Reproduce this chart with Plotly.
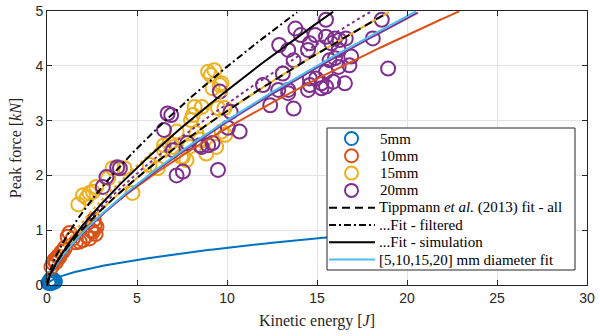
import numpy as np
import plotly.graph_objects as go

E_5mm = [0.08, 0.14, 0.20, 0.26, 0.32, 0.38, 0.44, 0.22]
F_5mm = [0.04, 0.07, 0.03, 0.08, 0.05, 0.09, 0.06, 0.11]

E_10mm = [0.25, 0.33, 0.40, 0.50, 0.60, 0.69, 0.80, 0.87, 1.00, 1.15, 1.25, 1.43,
          1.60, 1.81, 2.00, 2.20, 2.36, 2.45, 2.54, 2.60, 2.64, 2.70, 2.75]
F_10mm = [0.33, 0.40, 0.45, 0.42, 0.52, 0.51, 0.60, 0.61, 0.68, 0.88, 0.95, 0.85,
          0.78, 0.79, 0.82, 0.90, 0.85, 1.00, 0.97, 1.19, 1.09, 0.93, 1.06]

E_15mm = [1.74, 2.00, 2.20, 2.36, 2.55, 2.74, 3.40, 3.65, 3.90, 4.30, 4.75, 5.70,
          6.15, 6.50, 6.50, 6.80, 7.00, 7.20, 7.45, 7.55, 7.75, 7.90, 8.00, 8.10,
          8.20, 8.30, 8.50, 8.60, 8.85, 8.95, 9.10, 9.20, 9.30, 9.40, 9.50, 9.60,
          9.70, 9.70, 9.86, 9.90]
F_15mm = [1.47, 1.64, 1.59, 1.68, 1.70, 1.79, 1.95, 2.13, 2.13, 2.13, 1.68, 2.19,
          2.13, 2.55, 2.46, 2.59, 2.52, 2.80, 2.34, 2.34, 2.28, 2.52, 3.01, 3.10,
          3.25, 2.77, 2.65, 3.25, 2.40, 3.89, 3.83, 3.59, 3.92, 2.52, 3.23, 3.65,
          3.68, 2.80, 3.23, 2.74]

E_20mm = [3.10, 3.30, 3.90, 4.05, 6.50, 6.70, 6.90, 7.00, 7.20, 7.55, 7.80, 8.50,
          8.60, 8.95, 9.20, 9.50, 9.60, 10.05, 10.20, 10.70,
          12.00, 12.40, 12.85, 12.90, 13.10, 13.40, 13.40, 13.40, 13.70, 13.70,
          13.80, 14.10, 14.50, 14.50, 14.60, 14.60, 14.60, 14.90, 14.95, 15.25,
          15.25, 15.50, 15.50, 15.50, 15.50, 15.70, 15.80, 15.90, 16.00, 16.00,
          16.20, 16.20, 16.25, 16.55, 16.60, 16.80, 16.90, 18.10, 18.60, 18.95]
F_20mm = [1.79, 1.97, 2.15, 2.13, 2.83, 3.13, 3.10, 2.46, 2.00, 2.07, 2.59, 2.55,
          2.52, 2.55, 2.59, 2.10, 3.53, 2.87, 3.16, 2.80,
          3.65, 3.28, 3.56, 4.38, 3.86, 4.29, 3.56, 3.50, 4.10, 3.22,
          4.68, 4.56, 4.29, 3.56, 4.41, 3.77, 3.65, 4.56, 3.77, 3.68,
          3.59, 4.84, 4.53, 3.89, 3.62, 4.10, 4.41, 3.71, 4.50, 4.14,
          4.29, 3.98, 4.47, 3.68, 4.50, 4.01, 4.17, 4.50, 4.84, 3.95]

# ---- power-law fit parameters F = a * E^b ----
fit_names = ["5mm fit", "10mm fit", "15mm fit", "20mm fit", "15mm alt", "20mm alt",
             "[5,10,15,20] mm diameter fit",
             "Tippmann <i>et al.</i> (2013) fit - all",
             "...Fit - filtered", "...Fit - simulation"]
fit_a = [0.185, 0.611, 0.634, 0.580, 0.730, 0.660, 0.590, 0.634, 0.840, 0.660]
fit_b = [0.565, 0.671, 0.700, 0.710, 0.680, 0.700, 0.707, 0.700, 0.676, 0.731]
fit_Emax = [25.0, 22.9, 19.0, 20.6, 10.0, 18.1, 20.5, 18.8, 13.9, 15.9]
fit_color = ["#0072BD", "#D95319", "#EDB120", "#7E2F8E", "#EDB120", "#7E2F8E",
             "#4DBEEE", "#000000", "#000000", "#000000"]
fit_dash = ["solid", "solid", "solid", "solid", "dot", "dot",
            "solid", "8px,5px", "7px,3px,2px,3px", "solid"]

# legend content (order as in the reference legend)
legend_marker_labels = ["5mm", "10mm", "15mm", "20mm"]
legend_line_idx = [7, 8, 9, 6]

x_ticks = [0, 5, 10, 15, 20, 25, 30]
y_ticks = [0, 1, 2, 3, 4, 5]

SERIF = "Liberation Serif"
SANS = "Liberation Sans"
AXC = "#262626"

fig = go.Figure()

series = [("5mm", E_5mm, F_5mm, "#0072BD"),
          ("10mm", E_10mm, F_10mm, "#D95319"),
          ("15mm", E_15mm, F_15mm, "#EDB120"),
          ("20mm", E_20mm, F_20mm, "#7E2F8E")]
for nm, ex, fy, col in series:
    fig.add_trace(go.Scatter(
        x=ex, y=fy, mode="markers", name=nm, showlegend=False, cliponaxis=False,
        marker=dict(symbol="circle-open", size=14, color=col,
                    line=dict(width=2, color=col))))

for i in range(len(fit_names)):
    e = np.linspace(0, fit_Emax[i], 300)
    f = fit_a[i] * e ** fit_b[i]
    fig.add_trace(go.Scatter(
        x=e, y=f, mode="lines", name=fit_names[i], showlegend=False,
        line=dict(color=fit_color[i], width=2, dash=fit_dash[i])))

# ---- legend box drawn in paper coordinates ----
L, R, T, B = 47, 587, 11, 285  # plot area in px (for placing legend)
def px(x):
    return (x - L) / (R - L)
def py(y):
    return (B - y) / (B - T)

shapes = [dict(type="rect", xref="paper", yref="paper",
               x0=px(327), x1=px(575), y0=py(270), y1=py(128),
               fillcolor="white", line=dict(color=AXC, width=1), layer="above")]
annotations = []
row_y = [138.5, 155.8, 173.1, 190.4, 207.7, 225.0, 242.3, 259.6]
for k, (nm, _, _, col) in enumerate(series):
    shapes.append(dict(type="circle", xref="paper", yref="paper",
                       xsizemode="pixel", ysizemode="pixel",
                       xanchor=px(351.5), yanchor=py(row_y[k]),
                       x0=-6.5, x1=6.5, y0=-6.5, y1=6.5,
                       line=dict(color=col, width=2), layer="above"))
    annotations.append(dict(text=legend_marker_labels[k], xref="paper", yref="paper",
                            x=px(378), y=py(row_y[k]), xanchor="left", yanchor="middle",
                            showarrow=False, font=dict(family=SERIF, size=15, color="black")))
for j, idx in enumerate(legend_line_idx):
    yy = py(row_y[4 + j])
    shapes.append(dict(type="line", xref="paper", yref="paper",
                       x0=px(329), x1=px(375), y0=yy, y1=yy,
                       line=dict(color=fit_color[idx], width=2, dash=fit_dash[idx]),
                       layer="above"))
    annotations.append(dict(text=fit_names[idx], xref="paper", yref="paper",
                            x=px(377), y=yy, xanchor="left", yanchor="middle",
                            showarrow=False, font=dict(family=SERIF, size=15, color="black")))

axis_common = dict(
    showline=True, linecolor=AXC, linewidth=1, mirror="ticks",
    ticks="inside", ticklen=5, tickcolor=AXC, automargin=False,
    showgrid=True, gridcolor="#e3e3e3", gridwidth=1, zeroline=False,
    tickfont=dict(family=SANS, size=14, color=AXC),
)

fig.update_layout(
    width=600, height=336, autosize=False,
    margin=dict(l=L, r=600 - R, t=T, b=336 - B),
    paper_bgcolor="white", plot_bgcolor="white",
    xaxis=dict(range=[0, 30], tickvals=x_ticks, **axis_common,
               title=dict(text="Kinetic energy [<i>J</i>]", standoff=10,
                          font=dict(family=SERIF, size=16, color=AXC))),
    yaxis=dict(range=[0, 5], tickvals=y_ticks, **axis_common,
               title=dict(text="Peak force [<i>kN</i>]", standoff=9,
                          font=dict(family=SERIF, size=16, color=AXC))),
    shapes=shapes, annotations=annotations,
    showlegend=False,
)

fig.write_html("out.html", config={"displayModeBar": False},
               post_script="document.body.style.margin='0';")
